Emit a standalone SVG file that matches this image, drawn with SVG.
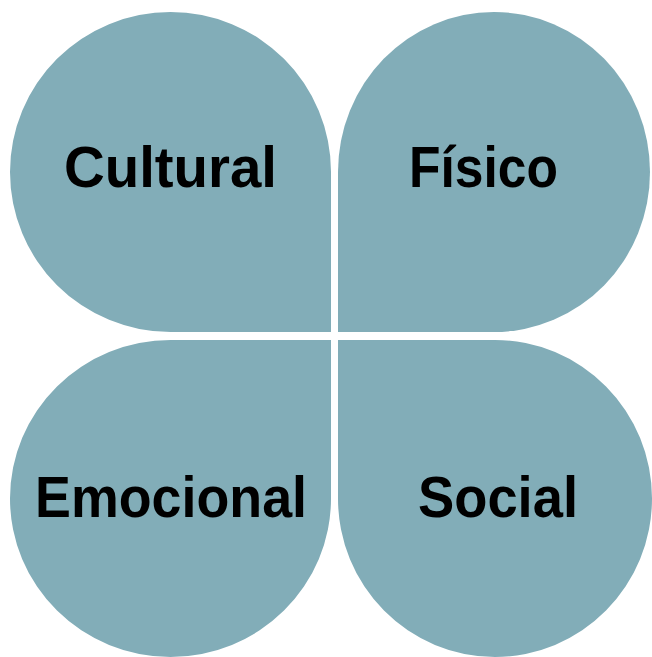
<svg xmlns="http://www.w3.org/2000/svg" width="652" height="657" viewBox="0 0 652 657">
<style>
.petal{fill:#82adb8;stroke:none}
.lbl{font-family:"Liberation Sans",Arial,sans-serif;font-weight:bold;font-size:57px;fill:#000;text-anchor:middle}
</style>
<rect width="652" height="657" fill="#fff"/>
<g id="cultural">
<path class="petal" d="M331 332 L331 172 A160.5 160 0 0 0 170.5 12 A160.5 160 0 0 0 10 172 A160.5 160 0 0 0 170.5 332 Z"/>
<text class="lbl" x="170.5" y="187" textLength="213" lengthAdjust="spacingAndGlyphs">Cultural</text>
</g>
<g id="fisico">
<path class="petal" d="M338 332 L338 172 A156 160 0 0 1 494 12 A156 160 0 0 1 650 172 A156 160 0 0 1 494 332 Z"/>
<text class="lbl" x="483.5" y="187" textLength="149" lengthAdjust="spacingAndGlyphs">Físico</text>
</g>
<g id="emocional">
<path class="petal" d="M331 340 L331 498.5 A160.5 158.5 0 0 1 170.5 657 A160.5 158.5 0 0 1 10 498.5 A160.5 158.5 0 0 1 170.5 340 Z"/>
<text class="lbl" x="171" y="517" textLength="272" lengthAdjust="spacingAndGlyphs">Emocional</text>
</g>
<g id="social">
<path class="petal" d="M338 340 L338 498.5 A157 158.5 0 0 0 495 657 A157 158.5 0 0 0 652 498.5 A157 158.5 0 0 0 495 340 Z"/>
<text class="lbl" x="498" y="517" textLength="160" lengthAdjust="spacingAndGlyphs">Social</text>
</g>
<g id="connectors"/>
</svg>
